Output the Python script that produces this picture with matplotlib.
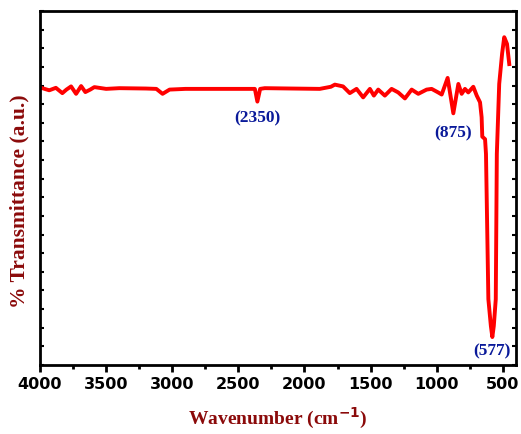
import matplotlib
matplotlib.use("Agg")
import matplotlib.pyplot as plt
from matplotlib.ticker import MultipleLocator, NullFormatter

# FTIR spectrum
wavenumber = [4000, 3930, 3880, 3831, 3800, 3765, 3727, 3689, 3657, 3620, 3589,
              3500, 3400, 3200, 3120, 3073, 3020, 2900, 2700, 2420, 2375, 2356,
              2335, 2300, 2100, 1884, 1800, 1770, 1708, 1657, 1606, 1556, 1505,
              1475, 1442, 1392, 1341, 1291, 1240, 1189, 1139, 1076, 1038, 989,
              962, 917, 874, 836, 811, 786, 761, 723, 697, 672, 660, 655, 634,
              627, 609, 590, 579, 568, 553, 545, 527, 505, 489, 468, 451]
transmittance = [78.4, 77.6, 78.3, 76.8, 77.8, 78.7, 76.6, 78.8, 77.1, 77.8, 78.5,
                 78.0, 78.2, 78.1, 78.0, 76.6, 77.8, 78.0, 78.0, 78.0, 78.0, 74.4,
                 78.0, 78.2, 78.1, 78.0, 78.6, 79.2, 78.7, 76.8, 78.0, 75.6, 78.0,
                 76.1, 77.8, 76.1, 78.0, 77.0, 75.3, 77.8, 76.6, 77.8, 78.0, 77.0,
                 76.4, 81.1, 71.1, 79.4, 76.6, 78.0, 77.0, 78.6, 76.1, 74.2, 70.0,
                 64.5, 63.8, 59.6, 18.6, 11.0, 7.9, 11.0, 18.6, 59.6, 79.4, 88.0,
                 92.6, 90.7, 85.0]

peak_labels = ["(2350)", "(875)", "(577)"]
label_x = [2354, 874, 584]
label_y = [70.0, 65.8, 4.0]

fig = plt.figure(figsize=(5.21, 4.35), dpi=100)
ax = fig.add_axes([40/521, 1-366/435, 476/521, 354/435])

ax.plot(wavenumber, transmittance, color="#ff0000", lw=2.8, solid_joinstyle="round")

for s, x, y in zip(peak_labels, label_x, label_y):
    ax.text(x, y, s, color="#0a1a9a", family="Liberation Serif", weight="bold",
            fontsize=12.5, ha="center", va="center")

ax.set_xlim(4000, 400)
ax.set_ylim(0, 100)
ax.xaxis.set_major_locator(MultipleLocator(500))
ax.xaxis.set_minor_locator(MultipleLocator(250))
ax.yaxis.set_major_locator(MultipleLocator(100/19))
ax.yaxis.set_major_formatter(NullFormatter())

ax.tick_params(axis="x", which="major", direction="out", length=5, width=2,
               labelsize=11.5, pad=3)
ax.tick_params(axis="x", which="minor", direction="out", length=3, width=2)
ax.tick_params(axis="y", which="both", direction="in", length=3, width=1.5,
               left=True, right=True)
for lbl in ax.get_xticklabels():
    lbl.set_fontweight("bold")

for sp in ax.spines.values():
    sp.set_linewidth(2)

ax.set_xlabel("Wavenumber (cm$^{\\mathbf{-1}}$)", family="Liberation Serif",
              weight="bold", color="#8b0a0a", fontsize=14, labelpad=10)
ax.set_ylabel("% Transmittance (a.u.)", family="Liberation Serif",
              weight="bold", color="#8b0a0a", fontsize=15.5)
ax.yaxis.set_label_coords(-0.022, 0.465)

fig.savefig("out.png", dpi=100)
